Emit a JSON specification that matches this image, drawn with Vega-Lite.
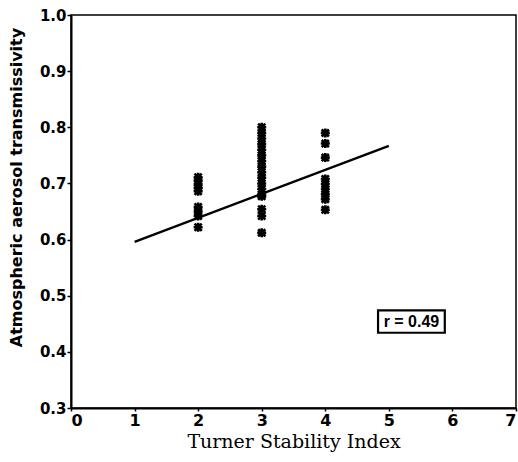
{
  "$schema": "https://vega.github.io/schema/vega-lite/v6.json",
  "width": 445,
  "height": 393,
  "autosize": {"type": "none"},
  "padding": {"left": 71, "top": 15, "right": 2, "bottom": 54},
  "background": "white",
  "config": {
    "view": {"stroke": "black", "strokeWidth": 1.5},
    "axis": {"grid": false, "domainColor": "black", "tickColor": "black", "labelColor": "black", "titleColor": "black", "domainWidth": 2, "tickWidth": 1.5}
  },
  "encoding": {
    "x": {"field": "x", "type": "quantitative",
      "scale": {"domain": [0, 7], "nice": false, "zero": false},
      "axis": {"values": [0,1,2,3,4,5,6,7], "title": "Turner Stability Index", "titleFont": "DejaVu Serif", "titleFontSize": 19, "titleFontWeight": "normal", "titlePadding": 4,
        "labelFont": "DejaVu Sans", "labelFontWeight": "bold", "labelFontSize": 16, "labelPadding": 1, "tickSize": 3}},
    "y": {"field": "y", "type": "quantitative",
      "scale": {"domain": [0.3, 1.0], "nice": false, "zero": false},
      "axis": {"values": [0.3,0.4,0.5,0.6,0.7,0.8,0.9,1.0], "format": ".1f", "title": "Atmospheric aerosol transmissivity", "titleFont": "DejaVu Sans", "titleFontWeight": "bold", "titleFontSize": 16, "titleX": -55, "titleY": 172, "titleAlign": "center", "titleBaseline": "middle", "titleAngle": -90,
        "labelFont": "DejaVu Sans", "labelFontWeight": "bold", "labelFontSize": 15, "labelPadding": 1, "tickSize": 4}}
  },
  "layer": [
    {
      "data": {"values": [
        {"x": 2, "y": 0.711}, {"x": 2, "y": 0.705}, {"x": 2, "y": 0.698}, {"x": 2, "y": 0.692}, {"x": 2, "y": 0.686},
        {"x": 2, "y": 0.658}, {"x": 2, "y": 0.650}, {"x": 2, "y": 0.642}, {"x": 2, "y": 0.622},
        {"x": 3, "y": 0.800}, {"x": 3, "y": 0.790}, {"x": 3, "y": 0.780}, {"x": 3, "y": 0.770}, {"x": 3, "y": 0.760},
        {"x": 3, "y": 0.750}, {"x": 3, "y": 0.740}, {"x": 3, "y": 0.730}, {"x": 3, "y": 0.720}, {"x": 3, "y": 0.710},
        {"x": 3, "y": 0.700}, {"x": 3, "y": 0.690}, {"x": 3, "y": 0.680}, {"x": 3, "y": 0.677},
        {"x": 3, "y": 0.654}, {"x": 3, "y": 0.642}, {"x": 3, "y": 0.612},
        {"x": 4, "y": 0.790}, {"x": 4, "y": 0.771}, {"x": 4, "y": 0.746},
        {"x": 4, "y": 0.708}, {"x": 4, "y": 0.699}, {"x": 4, "y": 0.690}, {"x": 4, "y": 0.681}, {"x": 4, "y": 0.672},
        {"x": 4, "y": 0.653}
      ]},
      "mark": {"type": "point", "shape": "M-1,0L1,0M0,-1L0,1M-0.8,-0.8L0.8,0.8M-0.8,0.8L0.8,-0.8", "size": 81, "filled": false, "stroke": "black", "strokeWidth": 2.6, "opacity": 1}
    },
    {
      "data": {"values": [{"x": 1, "y": 0.596}, {"x": 5, "y": 0.767}]},
      "mark": {"type": "line", "color": "black", "strokeWidth": 2.3}
    },
    {
      "data": {"values": [{"x": 4.83, "x2": 5.88, "y": 0.474, "y2": 0.434}]},
      "mark": {"type": "rect", "fill": "white", "stroke": "black", "strokeWidth": 2.2},
      "encoding": {"x2": {"field": "x2"}, "y2": {"field": "y2"}}
    },
    {
      "data": {"values": [{"x": 5.355, "y": 0.454, "label": "r = 0.49"}]},
      "mark": {"type": "text", "font": "Liberation Sans", "fontWeight": "bold", "fontSize": 16, "color": "black", "align": "center", "baseline": "middle"},
      "encoding": {"text": {"field": "label"}}
    }
  ]
}
